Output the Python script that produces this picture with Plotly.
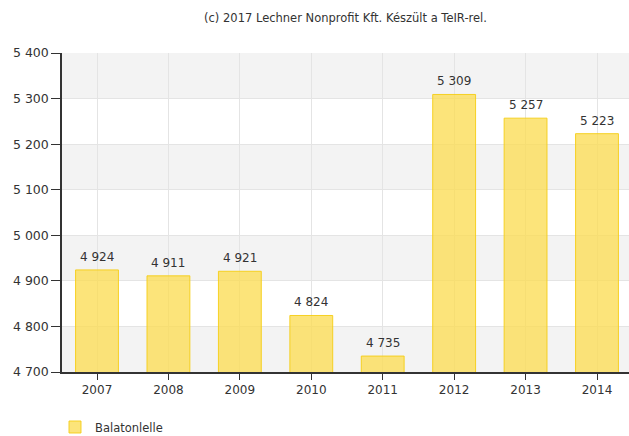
import plotly.graph_objects as go

# Population by year
years = ["2007", "2008", "2009", "2010", "2011", "2012", "2013", "2014"]
population = [4924, 4911, 4921, 4824, 4735, 5309, 5257, 5223]
series_name = "Balatonlelle"
y_ticks = [4700, 4800, 4900, 5000, 5100, 5200, 5300, 5400]
source_note = "(c) 2017 Lechner Nonprofit Kft. Készült a TeIR-rel."

FONT = "DejaVu Sans"

fig = go.Figure()
fig.add_trace(go.Bar(
    x=list(range(len(years))),
    y=population,
    name=series_name,
    width=0.6,
    marker=dict(color="rgba(251,220,85,0.78)",
                line=dict(color="rgba(245,205,20,0.9)", width=1)),
    showlegend=True,
))

# value labels above each bar
for i, v in enumerate(population):
    fig.add_annotation(x=i, y=v, xref="x", yref="y",
                       text=f"{v:,}".replace(",", " "),
                       showarrow=False, yanchor="bottom", yshift=4,
                       font=dict(family=FONT, size=12, color="#333333"))

# alternating shaded bands between gridlines
shapes = []
for i in range(len(y_ticks) - 1):
    if i % 2 == 0:
        shapes.append(dict(type="rect", xref="paper", yref="y", x0=0, x1=1,
                           y0=y_ticks[i], y1=y_ticks[i + 1],
                           fillcolor="#f3f3f3", line=dict(width=0), layer="below"))

fig.update_layout(
    width=629, height=436,
    margin=dict(l=62, r=0, t=53, b=64, autoexpand=False),
    paper_bgcolor="white", plot_bgcolor="white",
    separators=", ",
    shapes=shapes,
    title=dict(text=source_note, x=(62 + 629) / 2 / 629, xanchor="center",
               y=1 - 18 / 436, yanchor="middle",
               font=dict(family=FONT, size=11.5, color="#333333")),
    xaxis=dict(
        range=[-0.49, 7.448],
        tickmode="array", tickvals=list(range(len(years))), ticktext=years,
        showgrid=True, gridcolor="#e4e4e4", gridwidth=1,
        showline=True, linecolor="#333333", linewidth=1.5,
        ticks="outside", ticklen=6, tickcolor="#333333",
        tickfont=dict(family=FONT, size=12, color="#333333"),
        zeroline=False,
    ),
    yaxis=dict(
        range=[4700, 5400],
        tickmode="array", tickvals=y_ticks,
        tickformat=",",
        showgrid=True, gridcolor="#e4e4e4", gridwidth=1,
        showline=True, linecolor="#333333", linewidth=1.5,
        ticks="outside", ticklen=9, tickcolor="#333333",
        tickfont=dict(family=FONT, size=12.5, color="#333333"),
        zeroline=False,
    ),
    legend=dict(xref="container", x=55 / 629, xanchor="left",
                yref="container", y=9 / 436, yanchor="middle",
                orientation="h",
                font=dict(family=FONT, size=11.5, color="#333333")),
)

fig.write_html("out.html")
